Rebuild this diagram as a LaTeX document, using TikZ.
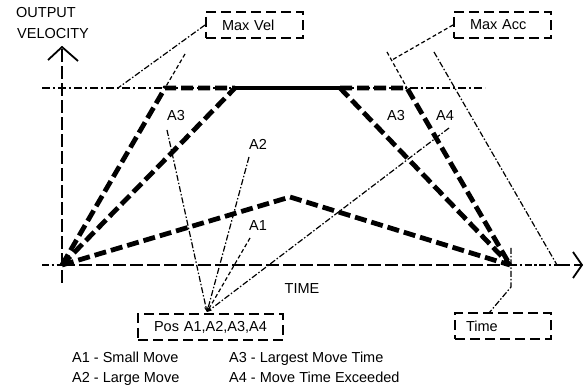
\documentclass[tikz,border=0pt]{standalone}
\usepackage{fontspec}
\setmainfont{Liberation Sans}
\usetikzlibrary{arrows.meta}
\begin{document}
\begin{tikzpicture}[x=1pt,y=-1pt,
  every node/.style={font=\fontsize{14.5}{17}\selectfont, inner sep=0pt},
  axis/.style={line width=2.2pt, dash pattern=on 13pt off 4pt},
  axisdot/.style={line width=2.2pt, dash pattern=on 7pt off 2.5pt on 2.5pt off 2.5pt},
  chevron/.style={line width=1.8pt},
  profile/.style={line width=4.8pt, dash pattern=on 12pt off 5pt},
  profsolid/.style={line width=4.8pt},
  leaderdash/.style={line width=1.2pt, dash pattern=on 4pt off 2.5pt},
  leaderdot/.style={line width=1.2pt, dash pattern=on 6pt off 2pt on 1.5pt off 2pt},
  refline/.style={line width=1.5pt, dash pattern=on 8pt off 3pt on 2pt off 3pt},
  tag/.style={draw, line width=2pt, dash pattern=on 10pt off 5pt,
    minimum height=26pt, inner ysep=0pt},
  ]
\useasboundingbox (0,0) rectangle (584,387);

% key points of the velocity profiles
\coordinate (O)   at (62,265);
\coordinate (T)   at (510,265);
\coordinate (S1)  at (165,88);
\coordinate (S2)  at (235,88);
\coordinate (S3)  at (340,88);
\coordinate (S4)  at (407,88);
\coordinate (P)   at (290,197);

% axes
\coordinate (yTop) at (62,47);
\coordinate (yBot) at (62,283);
\coordinate (xL)   at (42,265);
\coordinate (T2)   at (557,265);
\coordinate (xEnd) at (582,265);
\draw[axis] (yBot) -- (yTop);
\draw[chevron] (48,60) -- (yTop) -- (78,61);
\draw[axisdot] (xL) -- (O);
\draw[axis] (O) -- (T);
\draw[axisdot] (T) -- (T2);
\draw[axis] (T2) -- (xEnd);
\draw[chevron] (573,252) -- (xEnd) -- (573,278);

% maximum velocity reference line
\coordinate (vL) at (42,88);
\coordinate (vR) at (485,88);
\draw[refline] (vL) -- (vR);

% acceleration guide lines
\coordinate (a1) at (185,54);
\coordinate (a2) at (387,52);
\coordinate (a3) at (434,52);
\draw[leaderdash] (a1) -- (S1);
\draw[leaderdash] (a2) -- (S4);
\draw[leaderdot] (a3) -- (T2);

% velocity profiles
\draw[profile] (O) -- (S1) -- (S2);
\draw[profsolid] (S2) -- (S3);
\draw[profile] (S3) -- (S4) -- (T);
\draw[profile] (O) -- (S2);
\draw[profile] (S3) -- (T);
\draw[profile] (O) -- (P) -- (T);

% labels
\node (lblOut) [anchor=west] at (16,12.5) {OUTPUT};
\node (lblVel) [anchor=west] at (17,34) {VELOCITY};
\node (lblTime) at (302,288.5) {TIME};
\node (lA3a) at (176,116) {A3};
\node (lA2) at (258,144) {A2};
\node (lA1) at (258,226) {A1};
\node (lA3b) at (396,116) {A3};
\node (lA4) at (445,116) {A4};

% tagged boxes
\node[tag, text width=65pt, inner xsep=16pt, align=left] (maxvel) at (254.5,25) {Max Vel};
\node[tag, text width=65pt, inner xsep=16pt, align=left] (maxacc) at (502.5,25) {Max Acc};
\node[tag, text width=74pt, inner xsep=11pt, align=left] (timebox) at (503,326.5) {Time};
\node[tag, text width=115pt, inner xsep=15pt, align=center] (posbox) at (210.5,327) {Pos A1,A2,A3,A4};

% leaders to the boxes
\coordinate (mv) at (118,88);
\coordinate (ma) at (392,60);
\draw[leaderdot] (maxvel.west) -- (mv);
\draw[leaderdash] (maxacc.west) -- (ma);

\coordinate (tTop) at (511,248);
\coordinate (tBend) at (511,287);
\coordinate (tEnd) at (489,313);
\draw[leaderdot] (tTop) -- (tBend) -- (tEnd);

\coordinate (apex) at (207,312);
\coordinate (c3) at (167,130);
\coordinate (c2) at (249,157);
\coordinate (c1) at (250,238);
\coordinate (c4) at (449,128);
\draw[leaderdot, -{Stealth[length=5pt,width=3.5pt]}] (c3) -- (apex);
\draw[leaderdot, -{Stealth[length=5pt,width=3.5pt]}] (c2) -- (apex);
\draw[leaderdash, -{Stealth[length=5pt,width=3.5pt]}] (c1) -- (apex);
\draw[leaderdot, -{Stealth[length=5pt,width=3.5pt]}] (c4) -- (apex);

% legend
\node (k1) [anchor=base west] at (72,362.7) {A1 - Small Move};
\node (k2) [anchor=base west] at (72,382.7) {A2 - Large Move};
\node (k3) [anchor=base west] at (229,362.7) {A3 - Largest Move Time};
\node (k4) [anchor=base west] at (229,382.7) {A4 - Move Time Exceeded};
\end{tikzpicture}
\end{document}
